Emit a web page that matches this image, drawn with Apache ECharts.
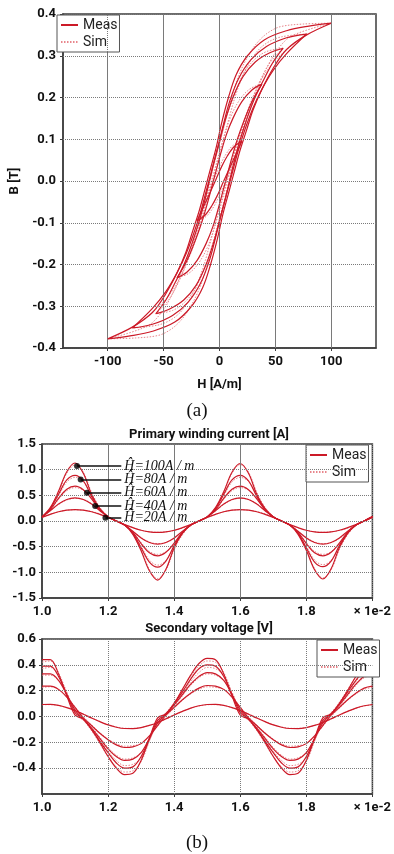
<!DOCTYPE html>
<html>
<head>
<meta charset="utf-8">
<script src="https://cdn.jsdelivr.net/npm/echarts@6/dist/echarts.min.js"></script>
<style>
  html, body { margin: 0; padding: 0; background: #fff; }
  #chart { width: 394px; height: 854px; }
</style>
</head>
<body>
<div id="chart"></div>
<script>
// (a) B-H loops, [H, B] pairs, measured
const loopM100 = [[100,0.378],[80,0.371],[60,0.36],[40,0.338],[25,0.3],[15,0.255],[8,0.2],[2,0.14],[-3,0.08],[-8,0.03],[-13,-0.02],[-18,-0.07],[-24,-0.12],[-30,-0.17],[-38,-0.22],[-48,-0.27],[-60,-0.315],[-78,-0.35],[-100,-0.378],
  [-80,-0.371],[-60,-0.36],[-40,-0.338],[-25,-0.3],[-15,-0.255],[-8,-0.2],[-2,-0.14],[3,-0.08],[8,-0.03],[13,0.02],[18,0.07],[24,0.12],[30,0.17],[38,0.22],[48,0.27],[60,0.315],[78,0.35],[100,0.378]];
const loopM80 = [[78,0.352],[60,0.343],[42,0.322],[28,0.29],[17,0.245],[9,0.19],[3,0.13],[-2,0.075],[-7,0.025],[-12,-0.025],[-17,-0.075],[-23,-0.125],[-30,-0.175],[-38,-0.22],[-48,-0.265],[-60,-0.305],[-78,-0.352],
  [-60,-0.343],[-42,-0.322],[-28,-0.29],[-17,-0.245],[-9,-0.19],[-3,-0.13],[2,-0.075],[7,-0.025],[12,0.025],[17,0.075],[23,0.125],[30,0.175],[38,0.22],[48,0.265],[60,0.305],[78,0.352]];
const loopM60 = [[57,0.318],[45,0.307],[32,0.285],[21,0.25],[12,0.2],[5,0.145],[0,0.095],[-5,0.045],[-9,0.0],[-13,-0.045],[-18,-0.095],[-24,-0.145],[-31,-0.195],[-40,-0.245],[-48,-0.285],[-57,-0.318],
  [-45,-0.307],[-32,-0.285],[-21,-0.25],[-12,-0.2],[-5,-0.145],[0,-0.095],[5,-0.045],[9,0.0],[13,0.045],[18,0.095],[24,0.145],[31,0.195],[40,0.245],[48,0.285],[57,0.318]];
const loopM40 = [[38,0.232],[29,0.218],[20,0.19],[12,0.15],[6,0.11],[1,0.065],[-3,0.025],[-7,-0.015],[-11,-0.055],[-16,-0.1],[-22,-0.145],[-29,-0.19],[-38,-0.232],
  [-29,-0.218],[-20,-0.19],[-12,-0.15],[-6,-0.11],[-1,-0.065],[3,-0.025],[7,0.015],[11,0.055],[16,0.1],[22,0.145],[29,0.19],[38,0.232]];
const loopM20 = [[20,0.095],[13,0.082],[7,0.06],[2,0.035],[-3,0.005],[-8,-0.025],[-14,-0.06],[-20,-0.095],
  [-13,-0.082],[-7,-0.06],[-2,-0.035],[3,-0.005],[8,0.025],[14,0.06],[20,0.095]];

// (a) simulated
const loopS100 = [[100,0.378],[75,0.376],[55,0.37],[45,0.358],[36,0.338],[28,0.31],[20,0.27],[13,0.22],[7,0.16],[1,0.1],[-5,0.04],[-10,-0.01],[-15,-0.06],[-21,-0.12],[-27,-0.17],[-34,-0.22],[-42,-0.27],[-52,-0.315],[-65,-0.348],[-100,-0.378],
  [-75,-0.376],[-55,-0.37],[-45,-0.358],[-36,-0.338],[-28,-0.31],[-20,-0.27],[-13,-0.22],[-7,-0.16],[-1,-0.1],[5,-0.04],[10,0.01],[15,0.06],[21,0.12],[27,0.17],[34,0.22],[42,0.27],[52,0.315],[65,0.348],[100,0.378]];
const loopS80 = [[78,0.352],[55,0.345],[42,0.33],[32,0.305],[23,0.265],[15,0.21],[9,0.155],[3,0.095],[-3,0.035],[-8,-0.015],[-13,-0.065],[-19,-0.12],[-26,-0.175],[-34,-0.225],[-44,-0.27],[-58,-0.31],[-78,-0.352],
  [-55,-0.345],[-42,-0.33],[-32,-0.305],[-23,-0.265],[-15,-0.21],[-9,-0.155],[-3,-0.095],[3,-0.035],[8,0.015],[13,0.065],[19,0.12],[26,0.175],[34,0.225],[44,0.27],[58,0.31],[78,0.352]];
const loopS60 = [[57,0.318],[42,0.31],[31,0.29],[21,0.255],[13,0.205],[6,0.15],[1,0.1],[-4,0.05],[-8,0.005],[-12,-0.04],[-17,-0.09],[-23,-0.145],[-30,-0.2],[-38,-0.25],[-47,-0.29],[-57,-0.318],
  [-42,-0.31],[-31,-0.29],[-21,-0.255],[-13,-0.205],[-6,-0.15],[-1,-0.1],[4,-0.05],[8,-0.005],[12,0.04],[17,0.09],[23,0.145],[30,0.2],[38,0.25],[47,0.29],[57,0.318]];
const loopS40 = [[38,0.232],[28,0.222],[19,0.198],[11,0.16],[5,0.115],[0,0.07],[-4,0.03],[-8,-0.01],[-12,-0.05],[-17,-0.1],[-23,-0.15],[-30,-0.195],[-38,-0.232],
  [-28,-0.222],[-19,-0.198],[-11,-0.16],[-5,-0.115],[0,-0.07],[4,-0.03],[8,0.01],[12,0.05],[17,0.1],[23,0.15],[30,0.195],[38,0.232]];
const loopS20 = [[20,0.095],[12,0.085],[6,0.065],[1,0.04],[-4,0.01],[-9,-0.02],[-14,-0.055],[-20,-0.095],
  [-12,-0.085],[-6,-0.065],[-1,-0.04],[4,-0.01],[9,0.02],[14,0.055],[20,0.095]];

// (b) time axis, x 1e-2 s
const time = [1.0,1.025,1.05,1.075,1.1,1.125,1.15,1.175,1.2,1.225,1.25,1.275,1.3,1.325,1.35,1.375,1.4,1.425,1.45,1.475,
  1.5,1.525,1.55,1.575,1.6,1.625,1.65,1.675,1.7,1.725,1.75,1.775,1.8,1.825,1.85,1.875,1.9,1.925,1.95,1.975,2.0];

// primary current [A]
const cur100M = [0.08,0.26,0.58,0.96,1.13,0.93,0.52,0.24,0.08,0.0,-0.08,-0.26,-0.58,-0.97,-1.15,-0.94,-0.52,-0.24,-0.08,0.0,0.08,0.26,0.57,0.95,1.12,0.93,0.52,0.24,0.08,0.0,-0.08,-0.26,-0.57,-0.95,-1.13,-0.93,-0.52,-0.24,-0.08,0.0,0.09];
const cur80M = [0.08,0.24,0.52,0.80,0.89,0.78,0.48,0.23,0.08,0.0,-0.08,-0.24,-0.52,-0.80,-0.90,-0.78,-0.48,-0.23,-0.08,0.0,0.08,0.24,0.52,0.80,0.89,0.78,0.48,0.23,0.08,0.0,-0.08,-0.24,-0.52,-0.80,-0.89,-0.78,-0.48,-0.23,-0.08,0.0,0.08];
const cur60M = [0.08,0.22,0.44,0.62,0.68,0.61,0.43,0.22,0.08,0.0,-0.08,-0.22,-0.44,-0.62,-0.68,-0.61,-0.43,-0.22,-0.08,0.0,0.08,0.22,0.44,0.62,0.68,0.61,0.43,0.22,0.08,0.0,-0.08,-0.22,-0.44,-0.62,-0.68,-0.61,-0.43,-0.22,-0.08,0.0,0.08];
const cur40M = [0.08,0.20,0.33,0.42,0.45,0.42,0.33,0.20,0.08,0.0,-0.08,-0.20,-0.33,-0.42,-0.45,-0.42,-0.33,-0.20,-0.08,0.0,0.08,0.20,0.33,0.42,0.45,0.42,0.33,0.20,0.08,0.0,-0.08,-0.20,-0.33,-0.42,-0.45,-0.42,-0.33,-0.20,-0.08,0.0,0.08];
const cur20M = [0.07,0.13,0.18,0.21,0.22,0.21,0.18,0.13,0.07,0.0,-0.07,-0.13,-0.18,-0.21,-0.22,-0.21,-0.18,-0.13,-0.07,0.0,0.07,0.13,0.18,0.21,0.22,0.21,0.18,0.13,0.07,0.0,-0.07,-0.13,-0.18,-0.21,-0.22,-0.21,-0.18,-0.13,-0.07,0.0,0.07];
const cur100S = [0.08,0.25,0.55,0.93,1.09,0.95,0.56,0.27,0.09,0.0,-0.08,-0.25,-0.55,-0.94,-1.12,-0.96,-0.56,-0.27,-0.09,0.0,0.08,0.25,0.55,0.93,1.10,0.95,0.56,0.27,0.09,0.0,-0.08,-0.25,-0.55,-0.93,-1.11,-0.95,-0.56,-0.27,-0.09,0.0,0.08];
const cur80S = [0.08,0.23,0.49,0.76,0.85,0.77,0.50,0.25,0.09,0.0,-0.08,-0.23,-0.49,-0.76,-0.86,-0.77,-0.50,-0.25,-0.09,0.0,0.08,0.23,0.49,0.76,0.85,0.77,0.50,0.25,0.09,0.0,-0.08,-0.23,-0.49,-0.76,-0.85,-0.77,-0.50,-0.25,-0.09,0.0,0.08];
const cur60S = [0.08,0.21,0.42,0.59,0.65,0.60,0.45,0.24,0.09,0.0,-0.08,-0.21,-0.42,-0.59,-0.65,-0.60,-0.45,-0.24,-0.09,0.0,0.08,0.21,0.42,0.59,0.65,0.60,0.45,0.24,0.09,0.0,-0.08,-0.21,-0.42,-0.59,-0.65,-0.60,-0.45,-0.24,-0.09,0.0,0.08];
const cur40S = [0.08,0.20,0.32,0.41,0.44,0.42,0.34,0.21,0.09,0.0,-0.08,-0.20,-0.32,-0.41,-0.44,-0.42,-0.34,-0.21,-0.09,0.0,0.08,0.20,0.32,0.41,0.44,0.42,0.34,0.21,0.09,0.0,-0.08,-0.20,-0.32,-0.41,-0.44,-0.42,-0.34,-0.21,-0.09,0.0,0.08];
const cur20S = [0.07,0.13,0.18,0.21,0.22,0.21,0.185,0.14,0.075,0.0,-0.07,-0.13,-0.18,-0.21,-0.22,-0.21,-0.185,-0.14,-0.075,0.0,0.07,0.13,0.18,0.21,0.22,0.21,0.185,0.14,0.075,0.0,-0.07,-0.13,-0.18,-0.21,-0.22,-0.21,-0.185,-0.14,-0.075,0.0,0.07];

// secondary voltage [V]
const volt100M = [0.44,0.44,0.33,0.16,0.01,-0.02,-0.10,-0.20,-0.31,-0.40,-0.45,-0.44,-0.34,-0.17,-0.01,0.02,0.10,0.21,0.32,0.41,0.45,0.44,0.33,0.16,0.01,-0.02,-0.10,-0.20,-0.31,-0.40,-0.45,-0.44,-0.34,-0.17,-0.01,0.02,0.10,0.20,0.31,0.40,0.44];
const volt80M = [0.39,0.39,0.31,0.17,0.03,-0.02,-0.10,-0.19,-0.28,-0.36,-0.40,-0.39,-0.31,-0.17,-0.03,0.02,0.10,0.19,0.29,0.37,0.40,0.39,0.31,0.17,0.03,-0.02,-0.10,-0.19,-0.28,-0.36,-0.40,-0.39,-0.31,-0.17,-0.03,0.02,0.10,0.19,0.28,0.36,0.39];
const volt60M = [0.33,0.33,0.28,0.17,0.05,-0.02,-0.09,-0.17,-0.25,-0.31,-0.34,-0.33,-0.28,-0.17,-0.05,0.02,0.09,0.17,0.25,0.31,0.34,0.33,0.28,0.17,0.05,-0.02,-0.09,-0.17,-0.25,-0.31,-0.34,-0.33,-0.28,-0.17,-0.05,0.02,0.09,0.17,0.25,0.31,0.33];
const volt40M = [0.235,0.235,0.21,0.15,0.07,-0.01,-0.07,-0.13,-0.18,-0.22,-0.24,-0.235,-0.21,-0.15,-0.07,0.01,0.07,0.13,0.18,0.22,0.24,0.235,0.21,0.15,0.07,-0.01,-0.07,-0.13,-0.18,-0.22,-0.24,-0.235,-0.21,-0.15,-0.07,0.01,0.07,0.13,0.18,0.22,0.235];
const volt20M = [0.093,0.094,0.086,0.069,0.046,0.018,-0.012,-0.040,-0.065,-0.083,-0.093,-0.094,-0.086,-0.069,-0.046,-0.018,0.012,0.040,0.065,0.083,0.093,0.094,0.086,0.069,0.046,0.018,-0.012,-0.040,-0.065,-0.083,-0.093,-0.094,-0.086,-0.069,-0.046,-0.018,0.012,0.040,0.065,0.083,0.093];
const volt100S = [0.42,0.43,0.34,0.18,0.02,-0.03,-0.11,-0.21,-0.31,-0.39,-0.43,-0.42,-0.35,-0.19,-0.03,0.03,0.11,0.21,0.31,0.39,0.43,0.42,0.34,0.18,0.02,-0.03,-0.11,-0.21,-0.31,-0.39,-0.43,-0.42,-0.35,-0.19,-0.03,0.03,0.11,0.21,0.31,0.39,0.42];
const volt80S = [0.37,0.38,0.32,0.19,0.04,-0.02,-0.10,-0.18,-0.27,-0.34,-0.38,-0.37,-0.32,-0.19,-0.04,0.02,0.10,0.18,0.27,0.34,0.38,0.37,0.32,0.19,0.04,-0.02,-0.10,-0.18,-0.27,-0.34,-0.38,-0.37,-0.32,-0.19,-0.04,0.02,0.10,0.18,0.27,0.34,0.37];
const volt60S = [0.32,0.32,0.28,0.18,0.06,-0.01,-0.08,-0.16,-0.24,-0.30,-0.33,-0.32,-0.28,-0.18,-0.06,0.01,0.08,0.16,0.24,0.30,0.33,0.32,0.28,0.18,0.06,-0.01,-0.08,-0.16,-0.24,-0.30,-0.33,-0.32,-0.28,-0.18,-0.06,0.01,0.08,0.16,0.24,0.30,0.32];
const volt40S = [0.225,0.23,0.21,0.155,0.075,0.0,-0.065,-0.125,-0.175,-0.21,-0.23,-0.225,-0.21,-0.155,-0.075,0.0,0.065,0.125,0.175,0.21,0.23,0.225,0.21,0.155,0.075,0.0,-0.065,-0.125,-0.175,-0.21,-0.23,-0.225,-0.21,-0.155,-0.075,0.0,0.065,0.125,0.175,0.21,0.225];
const volt20S = [0.091,0.092,0.085,0.069,0.047,0.02,-0.01,-0.038,-0.063,-0.081,-0.091,-0.092,-0.085,-0.069,-0.047,-0.02,0.01,0.038,0.063,0.081,0.091,0.092,0.085,0.069,0.047,0.02,-0.01,-0.038,-0.063,-0.081,-0.091,-0.092,-0.085,-0.069,-0.047,-0.02,0.01,0.038,0.063,0.081,0.091];

// annotation markers on the current plot
const annoT = [1.106, 1.117, 1.136, 1.161, 1.192];
const annoI = [1.07, 0.81, 0.55, 0.29, 0.065];
const annoText = ['Ĥ=100A / m', 'Ĥ=80A / m', 'Ĥ=60A / m', 'Ĥ=40A / m', 'Ĥ=20A / m'];
const annoEndT = 1.24;

// tick / grid positions
const hTicks = [-100, -50, 0, 50, 100];
const bGrid = [-0.3, -0.2, -0.1, 0.0, 0.1, 0.2, 0.3];
const tGrid = [1.2, 1.4, 1.6, 1.8];
const iGrid = [-1.0, -0.5, 0.0, 0.5, 1.0];
const vGrid = [-0.4, -0.2, 0.0, 0.2, 0.4];

const MEAS = '#cc1a28';
const SIM = '#e8868c';
const FONT = 'Roboto, "Liberation Sans", sans-serif';
const FRAME = '#3d3d3d';
const GRIDC = '#7a7a7a';

const chart = echarts.init(document.getElementById('chart'));

function ts(vals) {
  return time.map((t, i) => [t, vals[i]]);
}
function measLine(data, idx) {
  return { name: 'Meas', type: 'line', xAxisIndex: idx, yAxisIndex: idx, data: data,
    symbol: 'none', smooth: 0.35, z: 3,
    lineStyle: { color: MEAS, width: 1.2 }, itemStyle: { color: MEAS } };
}
function simLine(data, idx, grid) {
  const s = { name: 'Sim', type: 'line', xAxisIndex: idx, yAxisIndex: idx, data: data,
    symbol: 'none', smooth: 0.35, z: 2,
    lineStyle: { color: SIM, width: 1, type: [1.5, 1.5] }, itemStyle: { color: SIM } };
  if (grid) {
    // dotted grid lines through the axes
    s.markLine = { silent: true, symbol: ['none', 'none'], animation: false, label: { show: false },
      lineStyle: { color: GRIDC, width: 1, type: [1, 1] },
      emphasis: { disabled: true },
      data: grid[0].map(v => ({ xAxis: v })).concat(grid[1].map(v => ({ yAxis: v }))) };
  }
  return s;
}

const labelStyle = { color: '#111', fontFamily: FONT, fontSize: 13, fontWeight: 'bold' };
const axisLine = () => ({ show: true, onZero: false, lineStyle: { color: FRAME, width: 1.5 } });
const tick = () => ({ show: true, inside: false, length: 3, lineStyle: { color: FRAME } });
const split = () => ({ show: true, lineStyle: { color: GRIDC, width: 1, type: [1, 1] } });

const series = [];
[[loopS20, loopM20], [loopS40, loopM40], [loopS60, loopM60], [loopS80, loopM80], [loopS100, loopM100]].forEach((p, k) => {
  series.push(simLine(p[0], 0, k === 0 ? [hTicks, bGrid] : null));
  series.push(measLine(p[1], 0));
});
[[cur20S, cur20M], [cur40S, cur40M], [cur60S, cur60M], [cur80S, cur80M], [cur100S, cur100M]].forEach((p, k) => {
  series.push(simLine(ts(p[0]), 1, k === 0 ? [tGrid, iGrid] : null));
  series.push(measLine(ts(p[1]), 1));
});
[[volt20S, volt20M], [volt40S, volt40M], [volt60S, volt60M], [volt80S, volt80M], [volt100S, volt100M]].forEach((p, k) => {
  series.push(simLine(ts(p[0]), 2, k === 0 ? [tGrid, vGrid] : null));
  series.push(measLine(ts(p[1]), 2));
});

// dots + leader lines with labels
series.push({
  type: 'scatter', xAxisIndex: 1, yAxisIndex: 1, z: 10,
  data: annoT.map((t, i) => [t, annoI[i]]),
  symbolSize: 6, itemStyle: { color: '#000' },
  markLine: {
    silent: true, symbol: ['none', 'none'], animation: false,
    lineStyle: { color: '#111', width: 1.5, type: 'solid' },
    label: { show: true, position: 'end', distance: 3, color: '#111',
      fontFamily: '"Liberation Serif", "DejaVu Serif", serif', fontStyle: 'italic', fontSize: 14 },
    data: annoT.map((t, i) => [
      { coord: [t, annoI[i]] },
      { coord: [annoEndT, annoI[i]], label: { formatter: annoText[i] } }
    ])
  }
});

const legendBase = () => ({
  data: ['Meas', 'Sim'], orient: 'vertical', itemGap: 3, itemWidth: 17, itemHeight: 2,
  padding: [3, 2, 3, 3], borderColor: '#555', borderWidth: 1, backgroundColor: '#fff',
  itemStyle: { color: 'rgba(0,0,0,0)', borderWidth: 0 },
  textStyle: { fontFamily: FONT, fontSize: 14, color: '#222', lineHeight: 14 }, selectedMode: false
});

const timeAxis = (idx) => ({
  type: 'value', gridIndex: idx, min: 1.0, max: 2.0, interval: 0.2,
  axisLine: axisLine(), axisTick: tick(), splitLine: split(),
  axisLabel: Object.assign({ margin: 7, formatter: v => Math.abs(v - 2) < 1e-6 ? '× 1e-2' : v.toFixed(1) }, labelStyle)
});

chart.setOption({
  animation: false,
  backgroundColor: '#fff',
  textStyle: { fontFamily: FONT },
  grid: [
    { left: 57, top: 14, width: 319, height: 334, show: true, borderColor: FRAME, borderWidth: 1.5, backgroundColor: 'transparent' },
    { left: 42, top: 444, width: 334, height: 154, show: true, borderColor: FRAME, borderWidth: 1.5, backgroundColor: 'transparent' },
    { left: 42, top: 639, width: 334, height: 155, show: true, borderColor: FRAME, borderWidth: 1.5, backgroundColor: 'transparent' }
  ],
  xAxis: [
    {
      type: 'value', gridIndex: 0, min: -140, max: 140,
      name: 'H [A/m]', nameLocation: 'middle', nameGap: 30,
      nameTextStyle: Object.assign({}, labelStyle),
      axisLine: axisLine(),
      axisTick: Object.assign({ customValues: hTicks }, tick()),
      splitLine: split(),
      axisLabel: Object.assign({ margin: 7, customValues: hTicks }, labelStyle)
    },
    timeAxis(1),
    timeAxis(2)
  ],
  yAxis: [
    {
      type: 'value', gridIndex: 0, min: -0.4, max: 0.4, interval: 0.1,
      name: 'B [T]', nameLocation: 'middle', nameGap: 42, nameRotate: 90,
      nameTextStyle: Object.assign({}, labelStyle),
      axisLine: axisLine(), axisTick: tick(), splitLine: split(),
      axisLabel: Object.assign({ margin: 7, formatter: v => v.toFixed(1) }, labelStyle)
    },
    {
      type: 'value', gridIndex: 1, min: -1.5, max: 1.5, interval: 0.5,
      axisLine: axisLine(), axisTick: tick(), splitLine: split(),
      axisLabel: Object.assign({ margin: 6, formatter: v => v.toFixed(1) }, labelStyle)
    },
    {
      type: 'value', gridIndex: 2, min: -0.6, max: 0.6, interval: 0.2,
      axisLine: axisLine(), axisTick: tick(), splitLine: split(),
      axisLabel: Object.assign({ margin: 6, showMinLabel: false, formatter: v => v.toFixed(1) }, labelStyle)
    }
  ],
  legend: [
    Object.assign({ left: 57, top: 15 }, legendBase()),
    Object.assign({ left: 306, top: 445 }, legendBase()),
    Object.assign({ left: 317, top: 640 }, legendBase())
  ],
  graphic: [
    { type: 'text', x: 209, y: 435, style: { text: 'Primary winding current [A]', fill: '#111', font: 'bold 13px ' + FONT, align: 'center', verticalAlign: 'middle' } },
    { type: 'text', x: 209, y: 629, style: { text: 'Secondary voltage [V]', fill: '#111', font: 'bold 13px ' + FONT, align: 'center', verticalAlign: 'middle' } },
    { type: 'text', x: 197, y: 411, style: { text: '(a)', fill: '#111', font: '19px "Liberation Serif", serif', align: 'center', verticalAlign: 'middle' } },
    { type: 'text', x: 197, y: 843, style: { text: '(b)', fill: '#111', font: '19px "Liberation Serif", serif', align: 'center', verticalAlign: 'middle' } }
  ],
  series: series
});
</script>
</body>
</html>
